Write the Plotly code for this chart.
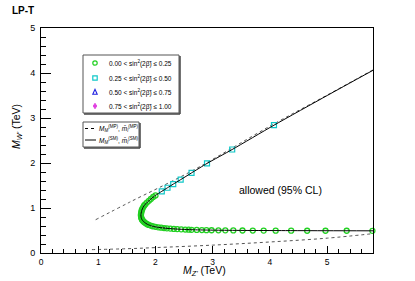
import plotly.graph_objects as go

# ---- data ----
sm_x = [5.8, 5.0, 4.07, 3.34, 2.9, 2.63, 2.44, 2.31, 2.21, 2.11, 2.0, 1.92, 1.85, 1.80, 1.77, 1.755,
        1.745, 1.75, 1.765, 1.79, 1.83, 1.88, 1.95, 2.05, 2.2, 2.4, 2.7, 3.1, 3.6, 4.2, 5.0, 5.8]
sm_y = [4.06, 3.50, 2.84, 2.30, 1.99, 1.78, 1.63, 1.53, 1.45, 1.37, 1.28, 1.20, 1.12, 1.05, 0.98, 0.92,
        0.85, 0.79, 0.74, 0.70, 0.66, 0.625, 0.595, 0.57, 0.548, 0.53, 0.515, 0.506, 0.501, 0.498, 0.495, 0.493]

mp_up_x = [0.955, 1.55, 2.66, 4.0, 5.0, 5.8]
mp_up_y = [0.74, 1.13, 1.84, 2.82, 3.51, 4.07]
mp_lo_x = [0.89, 1.5, 2.0, 3.0, 4.0, 5.0, 5.8]
mp_lo_y = [0.075, 0.095, 0.12, 0.175, 0.245, 0.33, 0.43]

green_x = [2.0, 1.96, 1.92, 1.885, 1.85, 1.82, 1.80, 1.785, 1.77, 1.76, 1.755, 1.75, 1.745, 1.747, 1.75,
           1.757, 1.765, 1.777, 1.79, 1.81, 1.83, 1.855, 1.88, 1.915, 1.95, 2.0, 2.05, 2.1, 2.15, 2.2,
           2.26, 2.32, 2.38, 2.45, 2.52, 2.58, 2.63, 2.72, 2.81, 2.89, 2.98, 3.10, 3.22, 3.36, 3.52,
           3.70, 3.89, 4.10, 4.37, 4.65, 4.97, 5.34, 5.79]
green_y = [1.28, 1.245, 1.20, 1.16, 1.12, 1.08, 1.05, 1.015, 0.98, 0.95, 0.92, 0.885, 0.85, 0.82, 0.79,
           0.765, 0.74, 0.72, 0.70, 0.68, 0.66, 0.64, 0.625, 0.61, 0.595, 0.582, 0.57, 0.562, 0.555, 0.548,
           0.542, 0.536, 0.531, 0.526, 0.521, 0.518, 0.515, 0.512, 0.51, 0.508, 0.506, 0.505, 0.503, 0.502,
           0.50, 0.499, 0.498, 0.497, 0.496, 0.495, 0.494, 0.494, 0.493]

cyan_x = [2.11, 2.21, 2.31, 2.44, 2.63, 2.9, 3.34, 4.07]
cyan_y = [1.37, 1.45, 1.53, 1.63, 1.78, 1.99, 2.30, 2.84]

legend_labels = ["0.00 < sin<sup>2</sup>(2β̃) ≤ 0.25",
                 "0.25 < sin<sup>2</sup>(2β̃) ≤ 0.50",
                 "0.50 < sin<sup>2</sup>(2β̃) ≤ 0.75",
                 "0.75 < sin<sup>2</sup>(2β̃) ≤ 1.00"]
line_labels = ["<i>M</i><sub><i>M</i></sub><sup>(MP)</sup>, <i>m̄</i><sub><i>l</i></sub><sup>(MP)</sup>",
               "<i>M</i><sub><i>M</i></sub><sup>(SM)</sup>, <i>m̄</i><sub><i>l</i></sub><sup>(SM)</sup>"]

GREEN = "#22d022"
CYAN = "#10c8c8"
BLUE = "#2020e0"
MAGENTA = "#e040e0"
FONT = "Liberation Sans"

W, H = 415, 281
L, R, T, B = 41, 373, 28, 253  # plot frame in window pixels

def px(x):
    return (x - L) / (R - L)

def py(y):
    return (B - y) / (B - T)

fig = go.Figure()
fig.add_trace(go.Scatter(x=mp_up_x, y=mp_up_y, mode="lines", line=dict(color="#555", width=1, dash="dot", shape="spline"), showlegend=False))
fig.add_trace(go.Scatter(x=mp_lo_x, y=mp_lo_y, mode="lines", line=dict(color="#555", width=1, dash="dot", shape="spline"), showlegend=False))
fig.add_trace(go.Scatter(x=green_x, y=green_y, mode="markers", cliponaxis=False,
                         marker=dict(symbol="circle-open", size=5, color=GREEN, line=dict(width=1.3)), showlegend=False))
fig.add_trace(go.Scatter(x=cyan_x, y=cyan_y, mode="markers", cliponaxis=False,
                         marker=dict(symbol="square-open", size=5, color=CYAN, line=dict(width=1.2)), showlegend=False))
fig.add_trace(go.Scatter(x=sm_x, y=sm_y, mode="lines", line=dict(color="black", width=1, shape="spline", smoothing=0.6), showlegend=False))

shapes = []
annotations = []

def box(x0, y0, x1, y1):
    shapes.append(dict(type="rect", xref="paper", yref="paper", x0=px(x0), x1=px(x1), y0=py(y1), y1=py(y0),
                       line=dict(color="#555", width=1), fillcolor="white", layer="above"))
    shapes.append(dict(type="line", xref="paper", yref="paper", x0=px(x0 + 1), x1=px(x1 + 1), y0=py(y1 + 1), y1=py(y1 + 1),
                       line=dict(color="#444", width=1.5), layer="above"))
    shapes.append(dict(type="line", xref="paper", yref="paper", x0=px(x1 + 1), x1=px(x1 + 1), y0=py(y0 + 1), y1=py(y1 + 1),
                       line=dict(color="#444", width=1.5), layer="above"))

box(83, 55, 179, 113)
rows = [63, 78, 92, 106]
mx = 95
s = 2.2
shapes.append(dict(type="circle", xref="paper", yref="paper", x0=px(mx - s), x1=px(mx + s), y0=py(rows[0] + s), y1=py(rows[0] - s),
                   line=dict(color=GREEN, width=1.2), layer="above"))
shapes.append(dict(type="rect", xref="paper", yref="paper", x0=px(mx - s), x1=px(mx + s), y0=py(rows[1] + s), y1=py(rows[1] - s),
                   line=dict(color=CYAN, width=1.2), layer="above"))
r2 = rows[2]
shapes.append(dict(type="path", xref="paper", yref="paper",
                   path=f"M {px(mx - s)} {py(r2 + s)} L {px(mx + s)} {py(r2 + s)} L {px(mx)} {py(r2 - s - 0.5)} Z",
                   line=dict(color=BLUE, width=1.1), layer="above"))
r3 = rows[3]
shapes.append(dict(type="path", xref="paper", yref="paper",
                   path=f"M {px(mx)} {py(r3 - s - 0.5)} L {px(mx + s - 0.5)} {py(r3)} L {px(mx)} {py(r3 + s + 0.5)} L {px(mx - s + 0.5)} {py(r3)} Z",
                   line=dict(color=MAGENTA, width=1), fillcolor=MAGENTA, layer="above"))
for lab, r in zip(legend_labels, rows):
    annotations.append(dict(text=lab, xref="paper", yref="paper", x=px(107), y=py(r), xanchor="left", yanchor="middle",
                            showarrow=False, font=dict(family=FONT, size=6.5, color="black")))

box(83, 122, 139, 147)
lrows = [128.5, 140]
shapes.append(dict(type="line", xref="paper", yref="paper", x0=px(85), x1=px(96), y0=py(lrows[0]), y1=py(lrows[0]),
                   line=dict(color="black", width=1, dash="dot"), layer="above"))
shapes.append(dict(type="line", xref="paper", yref="paper", x0=px(85), x1=px(96), y0=py(lrows[1]), y1=py(lrows[1]),
                   line=dict(color="black", width=1), layer="above"))
for lab, r in zip(line_labels, lrows):
    annotations.append(dict(text=lab, xref="paper", yref="paper", x=px(97), y=py(r), xanchor="left", yanchor="middle",
                            showarrow=False, font=dict(family=FONT, size=6.5, color="black")))

annotations.append(dict(text="<b>LP-T</b>", xref="paper", yref="paper", x=px(10), y=py(10.5), xanchor="left", yanchor="middle",
                        showarrow=False, font=dict(family=FONT, size=10, color="black")))
annotations.append(dict(text="allowed (95% CL)", xref="paper", yref="paper", x=px(280), y=py(190), xanchor="center", yanchor="middle",
                        showarrow=False, font=dict(family=FONT, size=10.5, color="black")))
annotations.append(dict(text="<i>M</i><sub><i>W'</i></sub> (TeV)", xref="paper", yref="paper", x=px(17), y=py(127), textangle=-90,
                        xanchor="center", yanchor="middle", showarrow=False, font=dict(family=FONT, size=10.5, color="black")))
annotations.append(dict(text="<i>M</i><sub><i>Z'</i></sub> (TeV)", xref="paper", yref="paper", x=px(204), y=py(271),
                        xanchor="center", yanchor="middle", showarrow=False, font=dict(family=FONT, size=10.5, color="black")))

fig.update_layout(
    width=W, height=H,
    margin=dict(l=L, r=W - R, t=T, b=H - B, autoexpand=False),
    paper_bgcolor="white", plot_bgcolor="white",
    showlegend=False,
    shapes=shapes, annotations=annotations,
    xaxis=dict(range=[0, 5.8], dtick=1, tick0=0, ticks="inside", ticklen=7, tickcolor="black", tickwidth=1,
               minor=dict(dtick=0.2, ticks="inside", ticklen=4, tickcolor="black"),
               showline=True, linecolor="black", linewidth=1, mirror=True, showgrid=False, zeroline=False,
               tickfont=dict(family=FONT, size=8.5, color="black"), ticklabelstandoff=1),
    yaxis=dict(range=[0, 5], dtick=1, tick0=0, ticks="inside", ticklen=10, tickcolor="black", tickwidth=1,
               minor=dict(dtick=0.2, ticks="inside", ticklen=5, tickcolor="black"),
               showline=True, linecolor="black", linewidth=1, mirror=True, showgrid=False, zeroline=False,
               tickfont=dict(family=FONT, size=9, color="black"), ticklabelstandoff=3),
)

fig.write_html("out.html", config={"displayModeBar": False},
               post_script="document.body.style.margin='0';document.body.style.overflow='hidden';")
